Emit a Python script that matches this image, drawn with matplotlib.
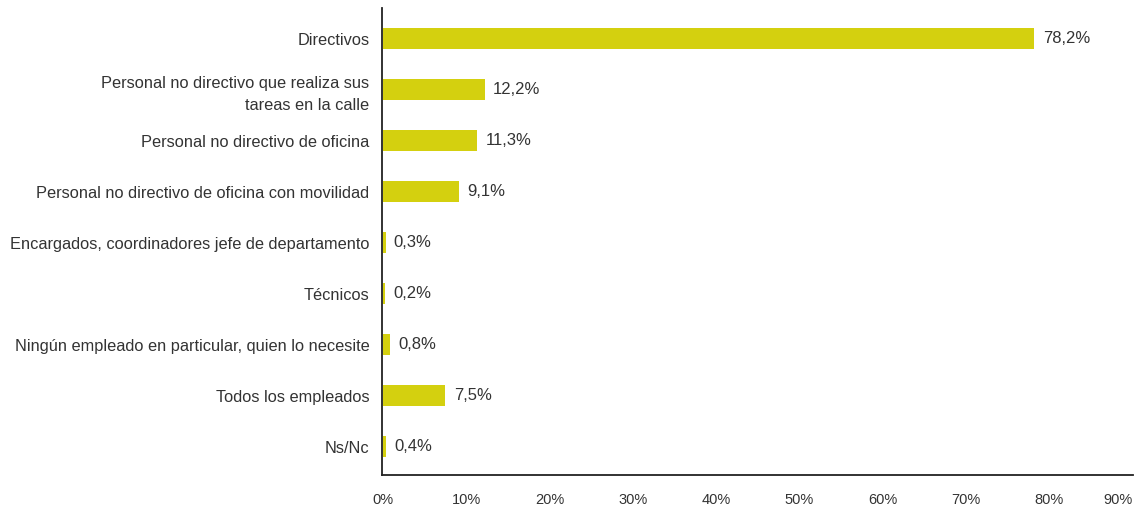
import matplotlib.pyplot as plt

plt.rcParams['font.family'] = ['Liberation Sans', 'DejaVu Sans']

categories = [
    "Directivos",
    "Personal no directivo que realiza sus\ntareas en la calle",
    "Personal no directivo de oficina",
    "Personal no directivo de oficina con movilidad",
    "Encargados, coordinadores jefe de departamento",
    "Técnicos",
    "Ningún empleado en particular, quien lo necesite",
    "Todos los empleados",
    "Ns/Nc",
]
values = [78.2, 12.2, 11.3, 9.1, 0.3, 0.2, 0.8, 7.5, 0.4]
ticks = list(range(0, 91, 10))

bar_color = "#D4D00F"
text_color = "#333333"

fig = plt.figure(figsize=(11.43, 5.08), dpi=100)
ax = fig.add_axes([0.334, 0.065, 0.657, 0.919])

ypos = range(len(categories))
ax.barh(ypos, values, height=0.41, color=bar_color)

for y, v in zip(ypos, values):
    ax.text(v + 1.0, y, f"{v:.1f}".replace(".", ",") + "%", va='center', ha='left',
            fontsize=12, color=text_color)

ax.set_yticks(list(ypos))
ax.set_yticklabels(categories, fontsize=11.8, color=text_color, linespacing=1.55)
ax.set_xticks(ticks)
labels = ax.set_xticklabels([f"{t}%" for t in ticks], fontsize=10.5, color=text_color)
labels[-1].set_ha('right')
ax.tick_params(axis='both', length=0)
ax.tick_params(axis='y', pad=9)
ax.tick_params(axis='x', pad=13)

# tiny gap so the thin bars are not hidden under the axis line
ax.set_xlim(-0.15, 90)
ax.set_ylim(len(categories) - 0.45, -0.6)

for s in ['top', 'right']:
    ax.spines[s].set_visible(False)
for s in ['left', 'bottom']:
    ax.spines[s].set_color('#222222')
    ax.spines[s].set_linewidth(1.3)

plt.savefig("out.png", dpi=100)
